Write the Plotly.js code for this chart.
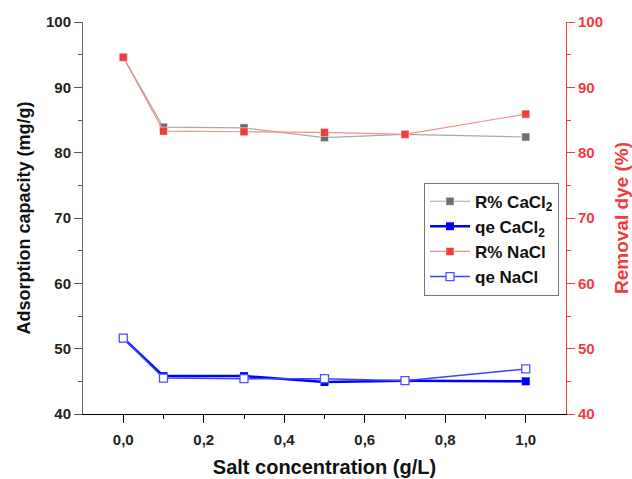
<!DOCTYPE html>
<html>
<head>
<meta charset="utf-8">
<script src="https://cdn.plot.ly/plotly-3.0.1.min.js"></script>
<style>html,body{margin:0;padding:0;background:#fff}#chart{width:632px;height:479px}</style>
</head>
<body>
<div id="chart"></div>
<script>
// Salt concentration (g/L)
const saltConc = [0.0, 0.1, 0.3, 0.5, 0.7, 1.0];
// Removal of dye (%)
const removalCaCl2 = [94.6, 83.9, 83.8, 82.3, 82.8, 82.4];
const removalNaCl  = [94.6, 83.3, 83.2, 83.1, 82.8, 85.9];
// Adsorption capacity qe (mg/g)
const qeCaCl2 = [51.6, 45.8, 45.8, 44.9, 45.1, 45.0];
const qeNaCl  = [51.6, 45.5, 45.4, 45.4, 45.1, 46.9];

const fontFam = '"Liberation Sans", Arial, sans-serif';
const red = '#f03c3c';

const traces = [
  {
    x: saltConc, y: removalCaCl2, yaxis: 'y2', name: '<b>R% CaCl<sub>2</sub></b>',
    mode: 'lines+markers',
    line: {color: '#a8a8a8', width: 1.2},
    marker: {symbol: 'square', size: 8, color: '#6e6e6e', line: {color: '#ffffff', width: 0.5}}
  },
  {
    x: saltConc, y: qeCaCl2, name: '<b>qe CaCl<sub>2</sub></b>',
    mode: 'lines+markers',
    line: {color: '#0000ff', width: 2.5},
    marker: {symbol: 'square', size: 8, color: '#0000ff'}
  },
  {
    x: saltConc, y: removalNaCl, yaxis: 'y2', name: '<b>R% NaCl</b>',
    mode: 'lines+markers',
    line: {color: '#f58c8c', width: 1.2},
    marker: {symbol: 'square', size: 8, color: red, line: {color: '#ffffff', width: 0.5}}
  },
  {
    x: saltConc, y: qeNaCl, name: '<b>qe NaCl</b>',
    mode: 'lines+markers',
    line: {color: '#4040ff', width: 1.5},
    marker: {symbol: 'square', size: 8, color: '#ffffff', line: {color: '#5050ff', width: 1.3}}
  }
];

const tickFont = {family: fontFam, size: 15, weight: 'bold', color: '#222'};

const layout = {
  width: 632, height: 479,
  margin: {l: 83, r: 66, t: 22, b: 65},
  paper_bgcolor: '#fff', plot_bgcolor: '#fff',
  separators: ',.',
  showlegend: true,
  legend: {
    x: 0.706, y: 0.59, xanchor: 'left', yanchor: 'top',
    bgcolor: '#fff', bordercolor: '#777', borderwidth: 1,
    font: {family: fontFam, size: 17, color: '#111'},
    tracegroupgap: 0, itemwidth: 40
  },
  xaxis: {
    range: [-0.1, 1.1], tickvals: [0, 0.2, 0.4, 0.6, 0.8, 1.0], tickformat: '.1f',
    ticks: 'outside', ticklen: 8, tickwidth: 1, tickcolor: '#000',
    minor: {tickvals: [0.1, 0.3, 0.5, 0.7, 0.9], ticks: 'outside', ticklen: 4, tickcolor: '#000'},
    showline: true, linecolor: '#000', linewidth: 1,
    showgrid: false, zeroline: false,
    tickfont: tickFont, ticklabelstandoff: 4,
    title: {text: '<b>Salt concentration (g/L)</b>', font: {family: fontFam, size: 20, color: '#111'}, standoff: 12}
  },
  xaxis2: {
    overlaying: 'x', matches: 'x', side: 'top', anchor: 'y',
    range: [-0.1, 1.1], tickvals: [0, 0.2, 0.4, 0.6, 0.8, 1.0],
    ticks: 'inside', ticklen: 7, tickwidth: 1, tickcolor: '#000',
    minor: {tickvals: [0.1, 0.3, 0.5, 0.7, 0.9], ticks: 'inside', ticklen: 4, tickcolor: '#000'},
    showticklabels: false, showline: true, linecolor: '#000', linewidth: 1,
    showgrid: false, zeroline: false
  },
  yaxis: {
    range: [40, 100], dtick: 10,
    ticks: 'outside', ticklen: 8, tickwidth: 1, tickcolor: '#555',
    minor: {dtick: 5, ticks: 'outside', ticklen: 4, tickcolor: '#555'},
    showline: true, linecolor: '#666', linewidth: 1,
    showgrid: false, zeroline: false,
    tickfont: tickFont,
    title: {text: '<b>Adsorption capacity (mg/g)</b>', font: {family: fontFam, size: 18, color: '#111'}, standoff: 10}
  },
  yaxis2: {
    overlaying: 'y', side: 'right', anchor: 'x',
    range: [40, 100], dtick: 10,
    ticks: 'outside', ticklen: 8, tickwidth: 1, tickcolor: red,
    minor: {dtick: 5, ticks: 'outside', ticklen: 4, tickcolor: red},
    showline: true, linecolor: red, linewidth: 1,
    showgrid: false, zeroline: false,
    tickfont: {family: fontFam, size: 15, weight: 'bold', color: red},
    title: {text: '<b>Removal dye (%)</b>', font: {family: fontFam, size: 19, color: red}, standoff: 14}
  }
};

Plotly.newPlot('chart', traces, layout, {displayModeBar: false, staticPlot: true});
</script>
</body>
</html>
